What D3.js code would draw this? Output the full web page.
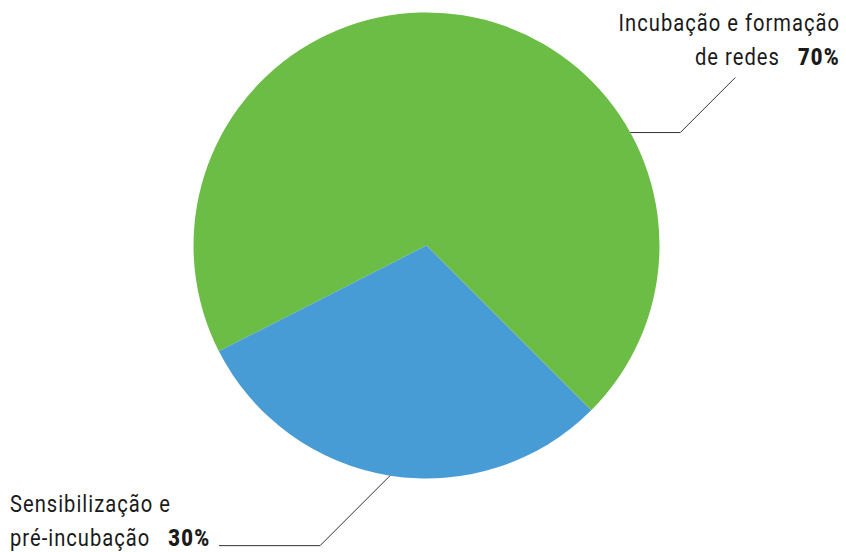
<!DOCTYPE html>
<html>
<head>
<meta charset="utf-8">
<script src="https://cdn.jsdelivr.net/npm/d3@7"></script>
<style>
  body { margin: 0; background: #fff; }
  text { font-family: "Roboto", "DejaVu Sans", sans-serif; font-size: 24px; fill: #1a1a1a; letter-spacing: 1.2px; white-space: pre; }
  .pct { font-weight: 900; letter-spacing: 1.5px; }
</style>
</head>
<body>
<div id="container"></div>
<script>
var categories = ["Incubação e formação de redes", "Sensibilização e pré-incubação"];
var values = [70, 30];
var colors = ["#6bbd45", "#489cd6"];
var labelLines = [["Incubação e formação", "de redes"], ["Sensibilização e", "pré-incubação"]];

var width = 846,
    height = 552;

var cx = 426.5, cy = 245.5, radius = 233;

var svg = d3.select("#container").append("svg")
    .attr("width", width)
    .attr("height", height);

var g = svg.append("g")
    .attr("transform", "translate(" + cx + "," + cy + ")");

var deg = Math.PI / 180;

var pie = d3.pie()
    .sort(null)
    .startAngle(-117 * deg)
    .endAngle(243 * deg);

var arc = d3.arc()
    .innerRadius(0)
    .outerRadius(radius);

var arcs = pie(values);

g.selectAll("path")
    .data(arcs)
    .enter().append("path")
    .attr("d", arc)
    .attr("fill", (d, i) => colors[i]);

// leader lines: point on the rim, elbow, end
var pt = function(a, r) { return [Math.sin(a * deg) * r, -Math.cos(a * deg) * r]; };

var p0 = pt(61, radius);
var green = [p0, [p0[0] + 50, p0[1]], [p0[0] + 105, p0[1] - 55]];
var p1 = pt(189, radius);
var blue = [p1, [p1[0] - 70, p1[1] + 70], [p1[0] - 171, p1[1] + 70]];

var line = d3.line();
[green, blue].forEach(function(l) {
    g.append("path")
        .attr("d", line(l))
        .attr("fill", "none")
        .attr("stroke", "#333")
        .attr("stroke-width", 1);
});

// labels (narrowed, the original face is condensed)
var sx = 0.84;
var lg1 = svg.append("g").attr("transform", "translate(840,0) scale(" + sx + ",1)");
var t1 = lg1.append("text").attr("text-anchor", "end");
t1.append("tspan").attr("x", 0).attr("y", 31).text(labelLines[0][0]);
var l2 = t1.append("tspan").attr("x", 0).attr("y", 65);
l2.append("tspan").text(labelLines[0][1] + "   ");
l2.append("tspan").attr("class", "pct").text(values[0] + "%");

var lg2 = svg.append("g").attr("transform", "translate(10,0) scale(" + sx + ",1)");
var t2 = lg2.append("text").attr("text-anchor", "start");
t2.append("tspan").attr("x", 0).attr("y", 512).text(labelLines[1][0]);
var l4 = t2.append("tspan").attr("x", 0).attr("y", 546);
l4.append("tspan").text(labelLines[1][1] + "   ");
l4.append("tspan").attr("class", "pct").text(values[1] + "%");
</script>
</body>
</html>
